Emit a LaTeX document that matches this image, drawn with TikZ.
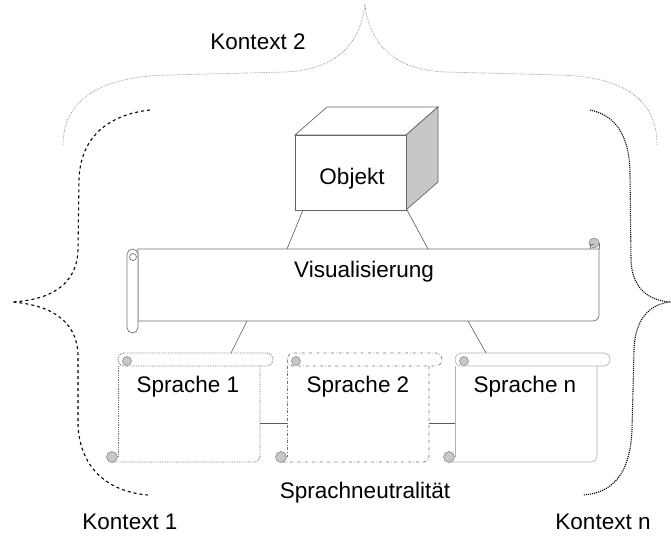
\documentclass[tikz,border=0pt]{standalone}
\usepackage{fontspec}
\setmainfont{Liberation Sans}
\usetikzlibrary{shapes}

\tikzset{
  txt/.style={font=\fontsize{22.5}{26}\selectfont, inner sep=0pt},
  link/.style={draw=black!65, line width=0.6pt},
  curl/.style={fill=black!22, draw=black!50, line width=0.5pt},
  cube/.style={draw=black!60, line width=0.7pt},
  banner/.style={draw=black!55, line width=0.7pt},
  lang one/.style={draw=black!55, densely dotted, line width=0.8pt},
  lang two/.style={draw=black!55, dash dot, line width=0.7pt},
  lang n/.style={draw=black!30, line width=0.6pt},
  ctx one/.style={draw=black, dashed, line width=1.1pt},
  ctx two/.style={draw=black!55, densely dotted, line width=0.6pt},
  ctx n/.style={draw=black, densely dotted, line width=1.1pt},
}

% vertical scroll: #1 = left x, #2 = style
\newcommand{\sprachrolle}[2]{%
  \draw[#2, fill=white] (#1+142,366) {[rounded corners=6] -- (#1+142,462)} -- (#1-5,462);
  \draw[#2] (#1,366) -- (#1,457);
  \draw[#2, fill=white, rounded corners=6.5] (#1,353) rectangle (#1+155,366);
  \draw[curl] (#1+9,361) circle (4.5);
  \draw[curl] (#1-6,457) circle (5.5);
}

\begin{document}
\begin{tikzpicture}[x=1pt,y=-1pt]
\useasboundingbox (0,0) rectangle (671,537);

% Kontexte
\draw[ctx two] (63,145) .. controls (63,100) and (100,76) .. (170,75) -- (285,72)
  .. controls (335,70) and (360,45) .. (365,5)
  .. controls (370,45) and (395,70) .. (445,72) -- (560,75)
  .. controls (625,77) and (657,100) .. (657,145);
\draw[ctx one] (150,110) .. controls (105,115) and (80,140) .. (79,180) -- (78,250)
  .. controls (77,285) and (50,300) .. (12,302)
  .. controls (50,305) and (77,320) .. (78,355) -- (78,425)
  .. controls (80,470) and (110,492) .. (148,495);
\draw[ctx n] (590,110) .. controls (615,115) and (630,135) .. (630,175) -- (631,260)
  .. controls (632,290) and (650,300) .. (669,302)
  .. controls (650,305) and (635,318) .. (634,350) -- (632,430)
  .. controls (630,475) and (612,493) .. (583,495);
\node[txt] (k2) at (258,42) {Kontext 2};
\node[txt] (k1) at (130,522) {Kontext 1};
\node[txt] (kn) at (603,522) {Kontext n};

% Objekt
\draw[cube, fill=white] (295,135) -- (327,107) -- (438,107) -- (406,135) -- cycle;
\draw[cube, fill=black!22] (406,135) -- (438,107) -- (438,182) -- (406,210) -- cycle;
\node[cube, fill=white, minimum width=111, minimum height=75, inner sep=0pt] (objekt) at (350.5,172.5) {};
\node[txt] (objtxt) at (352,179) {Objekt};

% Visualisierung
\draw[banner, fill=white] (138,249) -- (594,249) -- (599,249) {[rounded corners=6] -- (599,321)} -- (138,321) -- cycle;
\draw[banner] (599,249) -- (599,243);
\draw[curl] (594,243) circle (5);
\draw[banner] (590,249) -- (590,244) -- (594,244);
\draw[banner, fill=white, rounded corners=5.5] (127,249) rectangle (138,333);
\draw[banner] (133,257) circle (3.5);
\node[txt] (vis) at (364,272) {Visualisierung};

% Sprachen
\sprachrolle{118}{lang one}
\sprachrolle{287}{lang two}
\sprachrolle{455}{lang n}
\node[txt] (s1) at (188,387) {Sprache 1};
\node[txt] (s2) at (358,387) {Sprache 2};
\node[txt] (sn) at (525,387) {Sprache n};
\node[txt] (neutral) at (365,493) {Sprachneutralität};

% Verbindungen
\coordinate (objL) at (303,210);
\coordinate (objR) at (407,210);
\coordinate (visTL) at (287,249);
\coordinate (visTR) at (428,249);
\coordinate (visBL) at (247,321);
\coordinate (visBR) at (468,321);
\coordinate (s1T) at (231,353);
\coordinate (snT) at (486,353);
\coordinate (s1R) at (260,423);
\coordinate (s2L) at (287,423);
\coordinate (s2R) at (429,423);
\coordinate (snL) at (455,423);
\draw[link] (objL) -- (visTL);
\draw[link] (objR) -- (visTR);
\draw[link] (visBL) -- (s1T);
\draw[link] (visBR) -- (snT);
\draw[link] (s1R) -- (s2L);
\draw[link] (s2R) -- (snL);
\end{tikzpicture}
\end{document}
